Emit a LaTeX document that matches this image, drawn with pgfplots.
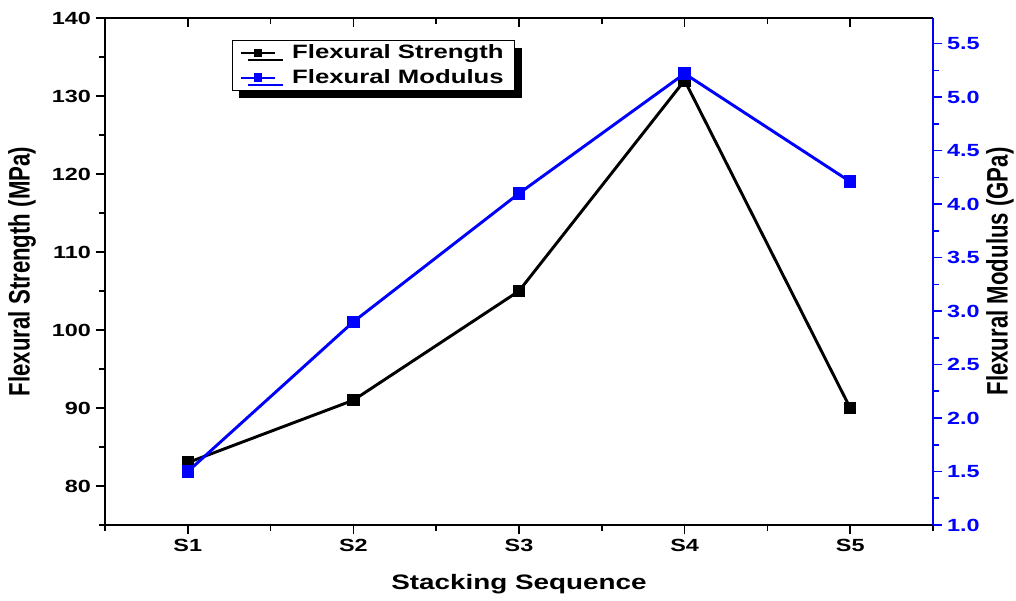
\documentclass[border=0pt]{standalone}
\usepackage{fontspec}
\setmainfont{Liberation Sans}[FakeStretch=1.33]
\newfontfamily\ylabfont{Liberation Sans}[FakeStretch=0.75]
\usepackage{pgfplots}
\pgfplotsset{compat=1.18}
\usetikzlibrary{shadows}

\definecolor{modblue}{RGB}{0,0,255}

\pgfplotsset{
  common/.style={
    scale only axis, width=621pt, height=380.25pt,
    at={(0,0)}, anchor=south west,
    xmin=0.5, xmax=5.5,
    /pgf/number format/assume math mode=true,
    ticklabel style={font=\fontsize{13.2}{15}\selectfont\bfseries},
    xlabel style={font=\fontsize{15.7}{18}\selectfont\bfseries},
    ylabel style={font=\ylabfont\fontsize{22.2}{24}\selectfont\bfseries},
    axis line style={line width=1.4pt},
    major tick length=7pt, minor tick length=4.5pt,
    every tick/.style={line width=1.2pt},
  }
}

\begin{document}
\begin{tikzpicture}
% top axis with inward ticks
\begin{axis}[common,
  axis x line*=top, hide y axis,
  ymin=0, ymax=1,
  xtick={1,...,5}, xticklabels={},
  minor xtick={0.5,1.5,...,5.5},
  tick align=inside,
]
\end{axis}

% left axis: flexural strength
\begin{axis}[common,
  axis x line*=bottom, axis y line*=left,
  ymin=75, ymax=140,
  xtick={1,...,5}, xticklabels={S1,S2,S3,S4,S5},
  minor xtick={0.5,1.5,...,5.5},
  ytick={80,90,...,140},
  minor ytick={75,85,...,135},
  tick align=outside,
  xlabel={Stacking Sequence},
  ylabel={Flexural Strength (MPa)},
  xlabel style={at={(axis description cs:0.5,-0.1164)}, anchor=center},
  ylabel style={at={(axis description cs:-0.1002,0.5)}, anchor=center},
]
\addplot[black, line width=2.2pt, mark=square*, mark size=3.6pt]
  coordinates {(1,83)(2,91)(3,105)(4,132)(5,90)};
\end{axis}

% right axis: flexural modulus
\begin{axis}[common,
  axis x line=none, axis y line*=right,
  ymin=1.0, ymax=5.74,
  ytick={1.0,1.5,...,5.5},
  minor ytick={1.25,1.75,...,5.75},
  tick align=outside,
  y axis line style={modblue},
  every tick/.append style={modblue},
  yticklabel style={modblue, /pgf/number format/.cd, fixed, fixed zerofill, precision=1},
  ylabel={Flexural Modulus (GPa)},
  ylabel style={at={(axis description cs:1.0809,0.5)}, anchor=center},
  legend style={at={(axis description cs:0.153,0.957)}, anchor=north west,
    draw=black, line width=0.6pt, fill=white,
    font=\fontsize{14.5}{17}\selectfont\bfseries,
    inner xsep=6pt, inner ysep=1.5pt, row sep=2.5pt, column sep=10pt,
    drop shadow={shadow xshift=5.5pt, shadow yshift=-5.5pt, fill=black, opacity=1}},
  legend cell align=left,
  legend image code/.code={
    \draw[mark repeat=2, mark phase=2, #1] plot coordinates {(0cm,0cm) (0.45cm,0cm) (0.9cm,0cm)};
  },
]
\addlegendimage{black, line width=1.5pt, mark=square*, mark size=2.5pt}
\addlegendentry{Flexural Strength}
\addplot[modblue, line width=2.2pt, mark=square*, mark size=3.6pt,
  forget plot]
  coordinates {(1,1.5)(2,2.9)(3,4.1)(4,5.22)(5,4.21)};
\addlegendimage{modblue, line width=1.5pt, mark=square*, mark size=2.5pt}
\addlegendentry{Flexural Modulus}
\end{axis}

\pgfresetboundingbox
\path (-78.75pt,-56.25pt) rectangle (683.25pt,393.75pt);
\end{tikzpicture}
\end{document}
